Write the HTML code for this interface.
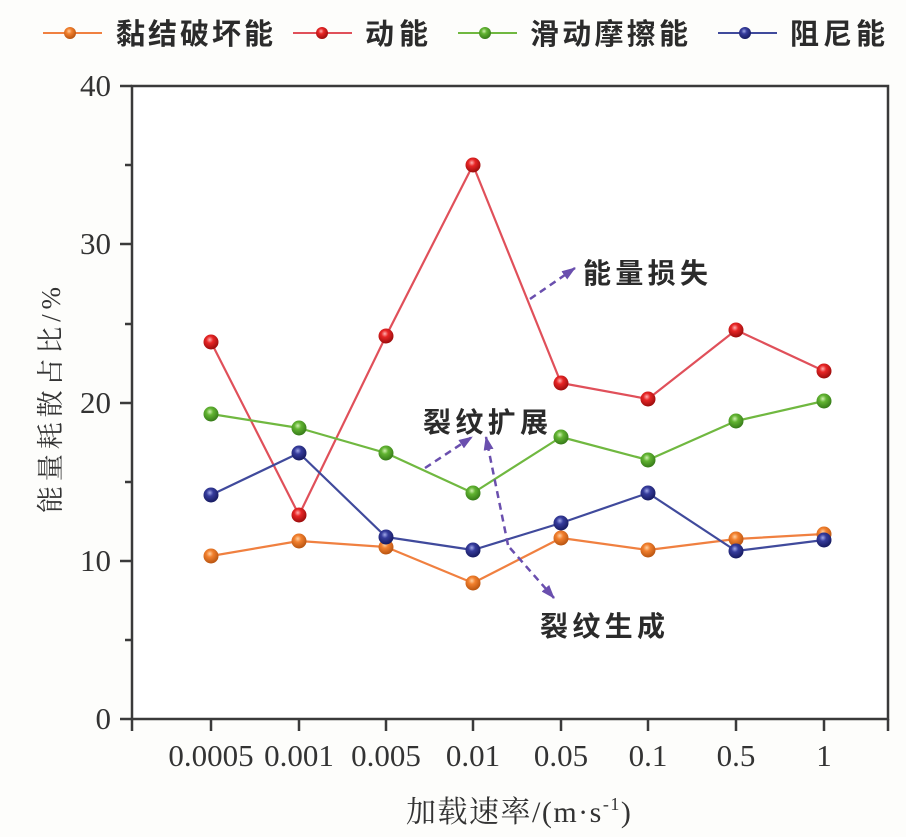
<!DOCTYPE html>
<html><head><meta charset="utf-8"><style>
html,body{margin:0;padding:0;background:#fdfdfb;}
svg{display:block;}
.cj{font-family:"Liberation Sans","Noto Sans CJK SC",sans-serif;fill:#2b2b2b;}
.sr{font-family:"Liberation Serif","Noto Serif CJK SC",serif;fill:#333;}
</style></head><body>
<svg width="906" height="837" viewBox="0 0 906 837" xmlns="http://www.w3.org/2000/svg">
<defs>
<radialGradient id="gr" cx="0.42" cy="0.35" r="0.65"><stop offset="0" stop-color="#ffb0b0"/><stop offset="0.35" stop-color="#e82626"/><stop offset="1" stop-color="#9a0c0c"/></radialGradient>
<radialGradient id="go" cx="0.42" cy="0.35" r="0.65"><stop offset="0" stop-color="#ffd0a0"/><stop offset="0.35" stop-color="#f2802e"/><stop offset="1" stop-color="#b85410"/></radialGradient>
<radialGradient id="gg" cx="0.42" cy="0.35" r="0.65"><stop offset="0" stop-color="#d0f0b0"/><stop offset="0.35" stop-color="#62b432"/><stop offset="1" stop-color="#357a18"/></radialGradient>
<radialGradient id="gb" cx="0.42" cy="0.35" r="0.65"><stop offset="0" stop-color="#a0a8e8"/><stop offset="0.35" stop-color="#363c9c"/><stop offset="1" stop-color="#161a60"/></radialGradient>
<marker id="ah" viewBox="0 0 14 10" refX="13" refY="5" markerWidth="14" markerHeight="10" markerUnits="userSpaceOnUse" orient="auto"><path d="M0,0 L14,5 L0,10 Z" fill="#6a4fae"/></marker>
</defs>
<rect x="0" y="0" width="906" height="837" fill="#fdfdfb"/>
<rect x="132" y="86" width="756" height="633" fill="#ffffff"/>

<!-- legend -->
<g stroke-width="2">
<line x1="43" y1="33" x2="102" y2="33" stroke="#f08040"/>
<line x1="293" y1="33" x2="352" y2="33" stroke="#e0505a"/>
<line x1="458" y1="33" x2="517" y2="33" stroke="#70b840"/>
<line x1="718" y1="33" x2="777" y2="33" stroke="#404a9c"/>
</g>
<circle cx="70" cy="33" r="6" fill="url(#go)"/>
<circle cx="322" cy="33" r="6" fill="url(#gr)"/>
<circle cx="485" cy="33" r="6" fill="url(#gg)"/>
<circle cx="745" cy="33" r="6" fill="url(#gb)"/>
<g class="cj" font-size="29" font-weight="bold">
<text x="116" y="44" textLength="157" lengthAdjust="spacing">黏结破坏能</text>
<text x="365" y="44" textLength="63" lengthAdjust="spacing">动能</text>
<text x="530" y="44" textLength="158" lengthAdjust="spacing">滑动摩擦能</text>
<text x="790" y="44" textLength="95" lengthAdjust="spacing">阻尼能</text>
</g>

<!-- frame and ticks -->
<g stroke="#3a3a3a" stroke-width="2.5" fill="none">
<rect x="132" y="86" width="756" height="633"/>
<path d="M120,86H132 M120,244H132 M120,403H132 M120,561H132 M120,719H132"/>
<path d="M125,165H132 M125,324H132 M125,482H132 M125,640H132"/>
<path d="M132,719V731 M211,719V731 M299,719V731 M386,719V731 M473,719V731 M561,719V731 M648,719V731 M736,719V731 M824,719V731 M888,719V731"/>
</g>

<!-- y tick labels -->
<g class="sr" font-size="31" text-anchor="end">
<text x="111" y="96">40</text>
<text x="111" y="254">30</text>
<text x="111" y="413">20</text>
<text x="111" y="571">10</text>
<text x="111" y="729">0</text>
</g>
<!-- x tick labels -->
<g class="sr" font-size="31" text-anchor="middle">
<text x="211" y="766">0.0005</text>
<text x="299" y="766">0.001</text>
<text x="386" y="766">0.005</text>
<text x="473" y="766">0.01</text>
<text x="561" y="766">0.05</text>
<text x="648" y="766">0.1</text>
<text x="736" y="766">0.5</text>
<text x="824" y="766">1</text>
</g>

<!-- axis titles -->
<text class="sr" x="406" y="822" font-size="30" letter-spacing="1.5">加载速率/(m·s<tspan font-size="18" dy="-12">-1</tspan><tspan dy="12">)</tspan></text>
<text class="sr" transform="translate(60,400) rotate(-90)" x="0" y="0" font-size="27" text-anchor="middle" textLength="226" lengthAdjust="spacing">能量耗散占比/%</text>

<!-- series lines -->
<g fill="none" stroke-width="2.2" stroke-linejoin="round">
<polyline stroke="#f08040" points="211,556 299,541 386,547 473,583 561,538 648,550 736,539 824,534"/>
<polyline stroke="#e0505a" points="211,342 299,515 386,336 473,165 561,383 648,399 736,330 824,371"/>
<polyline stroke="#70b840" points="211,414 299,428 386,453 473,493 561,437 648,460 736,421 824,401"/>
<polyline stroke="#404a9c" points="211,495 299,453 386,537 473,550 561,523 648,493 736,551 824,540"/>
</g>
<!-- markers -->
<g fill="url(#go)">
<circle cx="211" cy="556" r="7.5"/><circle cx="299" cy="541" r="7.5"/><circle cx="386" cy="547" r="7.5"/><circle cx="473" cy="583" r="7.5"/><circle cx="561" cy="538" r="7.5"/><circle cx="648" cy="550" r="7.5"/><circle cx="736" cy="539" r="7.5"/><circle cx="824" cy="534" r="7.5"/>
</g>
<g fill="url(#gr)">
<circle cx="211" cy="342" r="7.5"/><circle cx="299" cy="515" r="7.5"/><circle cx="386" cy="336" r="7.5"/><circle cx="473" cy="165" r="7.5"/><circle cx="561" cy="383" r="7.5"/><circle cx="648" cy="399" r="7.5"/><circle cx="736" cy="330" r="7.5"/><circle cx="824" cy="371" r="7.5"/>
</g>
<g fill="url(#gg)">
<circle cx="211" cy="414" r="7.5"/><circle cx="299" cy="428" r="7.5"/><circle cx="386" cy="453" r="7.5"/><circle cx="473" cy="493" r="7.5"/><circle cx="561" cy="437" r="7.5"/><circle cx="648" cy="460" r="7.5"/><circle cx="736" cy="421" r="7.5"/><circle cx="824" cy="401" r="7.5"/>
</g>
<g fill="url(#gb)">
<circle cx="211" cy="495" r="7.5"/><circle cx="299" cy="453" r="7.5"/><circle cx="386" cy="537" r="7.5"/><circle cx="473" cy="550" r="7.5"/><circle cx="561" cy="523" r="7.5"/><circle cx="648" cy="493" r="7.5"/><circle cx="736" cy="551" r="7.5"/><circle cx="824" cy="540" r="7.5"/>
</g>

<!-- annotation arrows -->
<g stroke="#6a4fae" stroke-width="2.5" stroke-dasharray="7 5" fill="none" marker-end="url(#ah)">
<line x1="530" y1="299" x2="575" y2="268"/>
<line x1="425" y1="468" x2="472" y2="437"/>
<line x1="508" y1="545" x2="486" y2="437"/>
<line x1="510" y1="548" x2="554" y2="598"/>
</g>

<!-- annotation texts -->
<g class="cj" font-size="28" font-weight="bold">
<text x="583" y="283" textLength="125" lengthAdjust="spacing">能量损失</text>
<text x="423" y="432" textLength="125" lengthAdjust="spacing">裂纹扩展</text>
<text x="540" y="636" textLength="125" lengthAdjust="spacing">裂纹生成</text>
</g>
</svg>
</body></html>
